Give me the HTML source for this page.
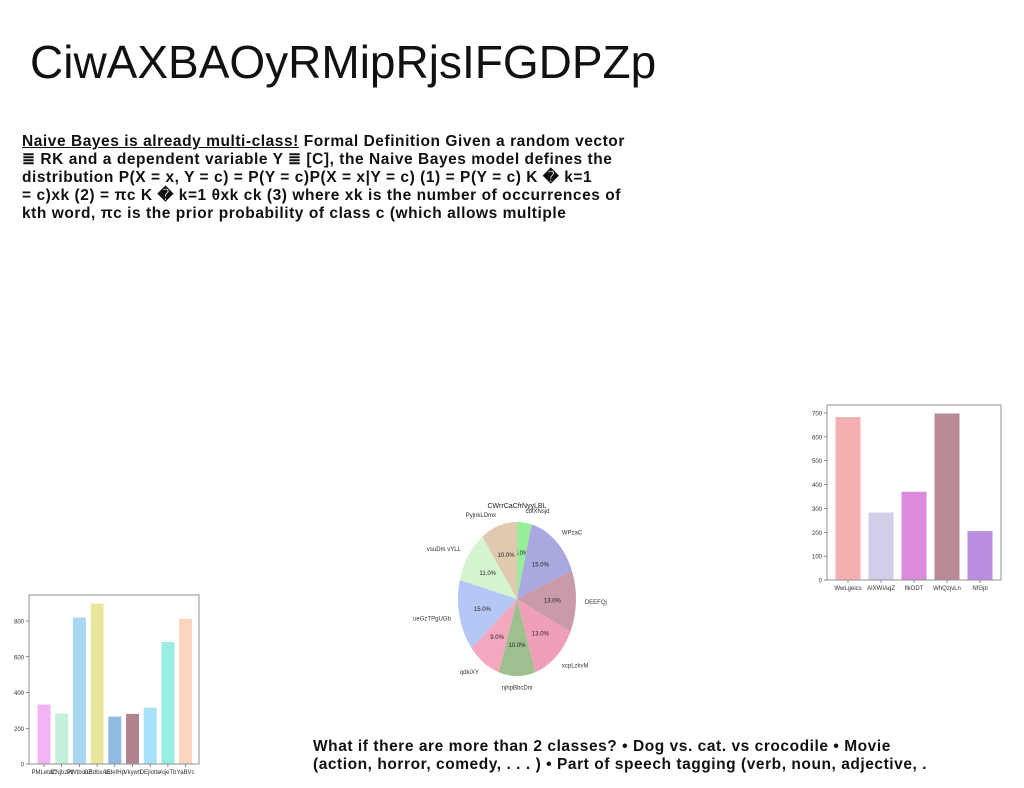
<!DOCTYPE html>
<html><head><meta charset="utf-8"><style>
body{margin:0;width:1024px;height:788px;background:#fff;overflow:hidden;position:relative;font-family:"Liberation Sans",sans-serif}
#title{position:absolute;left:30px;top:35px;font-size:46px;font-weight:300;color:#111;letter-spacing:0px;white-space:nowrap}
.para{position:absolute;font-weight:bold;font-size:15.5px;line-height:18px;color:#111;white-space:nowrap;letter-spacing:0.55px}
svg{position:absolute;left:0;top:0}
</style></head><body>
<div id="title">CiwAXBAOyRMipRjsIFGDPZp</div>
<div class="para" style="left:22px;top:133px">
<div><u>Naive Bayes is already multi-class!</u> Formal Definition Given a random vector</div>
<div>≣ RK and a dependent variable Y ≣ [C], the Naive Bayes model defines the</div>
<div>distribution P(X = x, Y = c) = P(Y = c)P(X = x|Y = c) (1) = P(Y = c) K � k=1</div>
<div>= c)xk (2) = πc K � k=1 θxk ck (3) where xk is the number of occurrences of</div>
<div>kth word, πc is the prior probability of class c (which allows multiple</div>
</div>
<div class="para" style="left:313px;top:738px">
<div>What if there are more than 2 classes? • Dog vs. cat. vs crocodile • Movie</div>
<div>(action, horror, comedy, . . . ) • Part of speech tagging (verb, noun, adjective, .</div>
</div>
<svg id="chart" width="1024" height="788"></svg>
<script>
const rightCats=["WwLgeics","AIXWIAqZ","flkODT","WhQzjvLn","NfGpl"];
const rightVals=[685,285,372,700,207];
const rightTicks=[0,100,200,300,400,500,600,700];
const leftCats=["PMLetdC","lZNjbzW","PWtbouZ","GHdbxAE","lcdefHp","Vkywtt","DEjlotte","AljeTb","YaBVc"];
const leftVals=[335,285,822,900,268,283,318,685,815];
const leftTicks=[0,200,400,600,800];
const pieLabels=["cbfXNsjd","WPzaC","DEEFQj","xcpLzkvM","njhpBbcDni","qdkiXY","ueGzTPgUGb","vsuDm vYLL","PyjnkLDmx"];
const pieVals=[4,15,13,13,10,9,15,11,10];
const NS="http://www.w3.org/2000/svg";
const svg=document.getElementById('chart');
function mk(t,a,p){const e=document.createElementNS(NS,t);for(const k in a)e.setAttribute(k,a[k]);(p||svg).appendChild(e);return e;}
function bar(cfg,cats,vals,ticks,colors,name){
  const g=mk('g',{});
  
  
  const y=v=>cfg.y0-(v/cfg.vmax)*(cfg.y0-cfg.ytop);
  ticks.forEach(t=>{
    mk('line',{x1:cfg.x0-3,x2:cfg.x0,y1:y(t),y2:y(t),stroke:'#444','stroke-width':0.6},g);
    const tx=mk('text',{x:cfg.x0-5,y:y(t)+2.5,'font-size':6,'text-anchor':'end',fill:'#333'},g);tx.textContent=t;
    
    
  });
  cats.forEach((c,i)=>{
    const x=cfg.bx+i*cfg.step;
    const r=mk('rect',{x:x,y:y(vals[i]),width:cfg.bw,height:cfg.y0-y(vals[i]),fill:colors[i],stroke:'#fff','stroke-width':1},g);
    
    
    mk('line',{x1:x+cfg.bw/2,x2:x+cfg.bw/2,y1:cfg.y0,y2:cfg.y0+3,stroke:'#444','stroke-width':0.6},g);
    const tx=mk('text',{x:x+cfg.bw/2,y:cfg.y0+10,'font-size':6,'text-anchor':'middle',fill:'#333'},g);tx.textContent=c;
    
    
  });
  const f=mk('rect',{x:cfg.x0,y:cfg.top,width:cfg.x1-cfg.x0,height:cfg.y0-cfg.top,fill:'none',stroke:'#777','stroke-width':0.8},g);
  
  
}
bar({x0:827,x1:1001,top:405,y0:580,ytop:413,vmax:700,bx:835,bw:26,step:33},rightCats,rightVals,rightTicks,
 ['#f4b0b0','#d2cde8','#da8bdb','#b88a96','#b98de0'],'right-bar-chart');
bar({x0:29,x1:199,top:595,y0:764,ytop:621,vmax:800,bx:37,bw:14,step:17.7},leftCats,leftVals,leftTicks,
 ['#f4b3f4','#c2f0da','#a9d6f0','#ebe69e','#90bae0','#b0838f','#a8e2fa','#98eee2','#fad4bc'],'left-bar-chart');
const cx=517,cy=599,rx=59,ry=77;
const pc=['#98ee98','#aaa8e0','#c99aa8','#f09fb8','#9ec08e','#f5a7c0','#b5c8f5','#d5f5d0','#dfcab0'];
const tot=pieVals.reduce((a,b)=>a+b,0);
const pg=mk('g',{});


let ang=Math.PI/2;
const pt=(a,s)=>[cx+rx*s*Math.cos(a),cy-ry*s*Math.sin(a)];
pieVals.forEach((v,i)=>{
  const a2=ang-v/tot*2*Math.PI;
  const [x1,y1]=pt(ang,1),[x2,y2]=pt(a2,1);
  const large=(ang-a2)>Math.PI?1:0;
  const p=mk('path',{d:`M${cx},${cy}L${x1},${y1}A${rx},${ry} 0 ${large} 1 ${x2},${y2}Z`,fill:pc[i]},pg);
  
  
  const m=(ang+a2)/2;
  const [lx,ly]=pt(m,0.6);
  const t=mk('text',{x:lx,y:ly+2,'font-size':6,'text-anchor':'middle',fill:'#222'},pg);t.textContent=v.toFixed(1)+'%';
  
  
  const [ox,oy]=pt(m,1.15);
  const l=mk('text',{x:ox,y:oy+2,'font-size':6,'text-anchor':Math.cos(m)>0.05?'start':(Math.cos(m)<-0.05?'end':'middle'),fill:'#333'},pg);l.textContent=pieLabels[i];
  
  
  ang=a2;
});
const pt2=mk('text',{x:517,y:508,'font-size':7,'text-anchor':'middle',fill:'#222'},pg);pt2.textContent='CWrrCaCfrNyyLBL';


</script>
</body></html>
